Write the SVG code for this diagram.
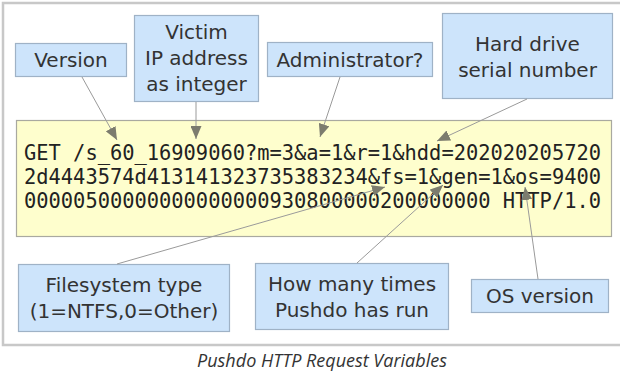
<svg xmlns="http://www.w3.org/2000/svg" width="620" height="372" viewBox="0 0 620 372">
  <style>
    .note rect { fill: #cde4fb; stroke: #9fb2c6; stroke-width: 1.2; }
    .note text { font-family: "DejaVu Sans", Verdana, sans-serif; font-size: 20px; fill: #333; text-anchor: middle; }
    .request rect { fill: #fefecd; stroke: #a9a9a0; stroke-width: 1.2; }
    .request text { font-family: "DejaVu Sans Mono", "Liberation Mono", monospace; font-size: 20.4px; fill: #222; }
    .link { stroke: #9a9a9a; stroke-width: 1; fill: none; marker-end: url(#head); }
    .frame { stroke: #c8c8c8; stroke-width: 2.5; fill: none; }
    .caption { font-family: "Open Sans", "DejaVu Sans", sans-serif; font-style: italic; font-size: 18px; fill: #333; text-anchor: middle; }
  </style>
  <defs>
    <marker id="head" markerUnits="userSpaceOnUse" markerWidth="13" markerHeight="11" refX="13" refY="5.5" orient="auto">
      <path d="M0,0 L13,5.5 L0,11 z" fill="#7c7c6e"/>
    </marker>
  </defs>

  <rect width="620" height="372" fill="#fff"/>
  <!-- figure frame -->
  <path class="frame" d="M620,3 H3 V345 H620"/>

  <!-- request string -->
  <g id="request" class="request">
    <rect x="16.5" y="120.5" width="595" height="116"/>
    <text x="24" y="160">GET /s_60_16909060?m=3&amp;a=1&amp;r=1&amp;hdd=202020205720</text>
    <text x="24" y="184">2d4443574d413141323735383234&amp;fs=1&amp;gen=1&amp;os=9400</text>
    <text x="24" y="208">00000500000000000000930800000200000000 HTTP/1.0</text>
  </g>

  <!-- labels -->
  <g id="version" class="note">
    <rect x="15.5" y="43.5" width="111" height="33"/>
    <text x="71" y="67">Version</text>
  </g>
  <g id="victim-ip" class="note">
    <rect x="134.5" y="15.5" width="124" height="86"/>
    <text x="196.5" y="39">Victim</text>
    <text x="196.5" y="65">IP address</text>
    <text x="196.5" y="91">as integer</text>
  </g>
  <g id="administrator" class="note">
    <rect x="267.5" y="42.5" width="165" height="34"/>
    <text x="350" y="67">Administrator?</text>
  </g>
  <g id="hard-drive" class="note">
    <rect x="442.5" y="13.5" width="170" height="85"/>
    <text x="527.5" y="51">Hard drive</text>
    <text x="527.5" y="77">serial number</text>
  </g>
  <g id="filesystem" class="note">
    <rect x="18.5" y="264.5" width="211" height="67"/>
    <text x="124" y="292">Filesystem type</text>
    <text x="124" y="318">(1=NTFS,0=Other)</text>
  </g>
  <g id="run-count" class="note">
    <rect x="255.5" y="263.5" width="193" height="66"/>
    <text x="352" y="291">How many times</text>
    <text x="352" y="317">Pushdo has run</text>
  </g>
  <g id="os-version" class="note">
    <rect x="471.5" y="279.5" width="137" height="33"/>
    <text x="540" y="303">OS version</text>
  </g>

  <!-- connectors -->
  <g id="connectors">
    <line class="link" x1="82" y1="77" x2="117" y2="140"/>
    <line class="link" x1="196" y1="102" x2="196" y2="139"/>
    <line class="link" x1="340" y1="77" x2="320" y2="137"/>
    <line class="link" x1="527" y1="99" x2="437" y2="141"/>
    <line class="link" x1="117" y1="264" x2="385" y2="187"/>
    <line class="link" x1="357" y1="263" x2="443" y2="185"/>
    <line class="link" x1="538" y1="279" x2="525" y2="187"/>
  </g>

  <text class="caption" x="322" y="367">Pushdo HTTP Request Variables</text>
</svg>
